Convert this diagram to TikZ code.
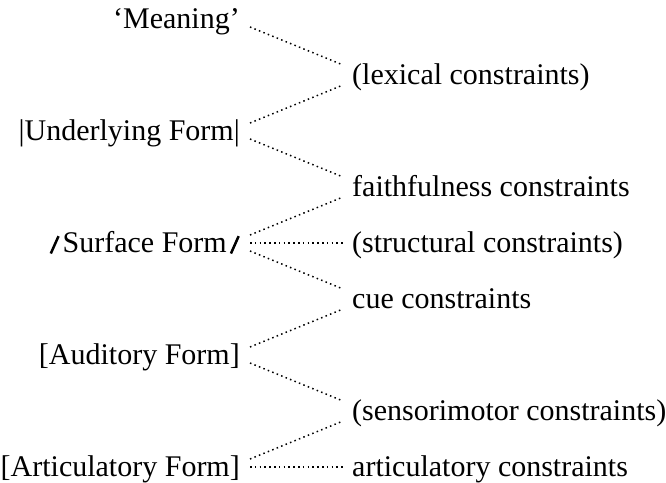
\documentclass[tikz,border=0pt]{standalone}
\usepackage{fontspec}
\setmainfont{Liberation Serif}
\newcommand{\surfslash}{\raisebox{-1pt}{\rotatebox{-24}{\rule{2.5pt}{19pt}}}}

\begin{document}
\begin{tikzpicture}[x=1pt, y=-1pt,
  form/.style={anchor=base east, inner xsep=10pt, inner ysep=0pt,
    text height=24pt, text depth=6pt, font=\fontsize{30}{34}\selectfont},
  con/.style={anchor=base west, inner xsep=9pt, inner ysep=0pt,
    text height=24pt, text depth=6pt, font=\fontsize{30}{34}\selectfont},
  link/.style={line width=1.5pt, dash pattern=on 1.5pt off 3.3pt}]
  \useasboundingbox (0,0) rectangle (666,482);
  % representations on the left
  \node[form] (mean) at (250, 28) {`Meaning'};
  \node[form] (und)  at (250, 140) {|Underlying Form|};
  \node[form] (surf) at (250, 252) {\surfslash\kern3pt Surface Form\kern3pt\surfslash};
  \node[form] (aud)  at (250, 364) {[Auditory Form]};
  \node[form] (art)  at (250, 476) {[Articulatory Form]};
  % constraints on the right
  \node[con] (lex)   at (343, 84) {(lexical constraints)};
  \node[con] (faith) at (343, 196) {faithfulness constraints};
  \node[con] (struc) at (343, 252) {(structural constraints)};
  \node[con] (cue)   at (343, 308) {cue constraints};
  \node[con] (sens)  at (343, 420) {(sensorimotor constraints)};
  \node[con] (artc)  at (343, 476) {articulatory constraints};
  % dotted links
  \draw[link] ([yshift=-8pt]mean.east) -- ([yshift=10pt]lex.west);
  \draw[link] ([yshift=8pt]und.east) -- ([yshift=-10pt]lex.west);
  \draw[link] ([yshift=-8pt]und.east) -- ([yshift=10pt]faith.west);
  \draw[link] ([yshift=8pt]surf.east) -- ([yshift=-10pt]faith.west);
  \draw[link] (surf.east) -- (struc.west);
  \draw[link] ([yshift=-8pt]surf.east) -- ([yshift=10pt]cue.west);
  \draw[link] ([yshift=8pt]aud.east) -- ([yshift=-10pt]cue.west);
  \draw[link] ([yshift=-8pt]aud.east) -- ([yshift=10pt]sens.west);
  \draw[link] ([yshift=8pt]art.east) -- ([yshift=-10pt]sens.west);
  \draw[link] (art.east) -- (artc.west);
\end{tikzpicture}
\end{document}
